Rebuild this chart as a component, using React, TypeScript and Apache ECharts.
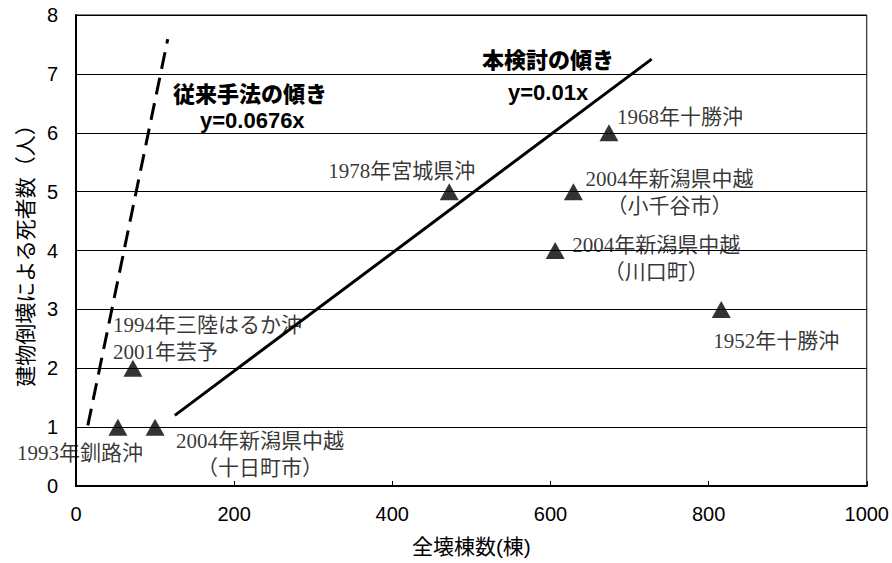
import React, { useEffect, useRef } from "react";
import * as echarts from "echarts";

// Data: collapsed buildings (x) vs deaths from building collapse (y)
const quakeNames = [
  "1993年釧路沖",
  "2004年新潟県中越\n（十日町市）",
  "1994年三陸はるか沖\n2001年芸予",
  "1978年宮城県沖",
  "1968年十勝沖",
  "2004年新潟県中越\n（小千谷市）",
  "2004年新潟県中越\n（川口町）",
  "1952年十勝沖",
];
const collapsedBuildings = [53, 100, 72, 472, 674, 629, 606, 816];
const deaths = [1, 1, 2, 5, 6, 5, 4, 3];

// Fitted lines (endpoints)
const conventionalLine = [
  [15, 1.03],
  [116, 7.59],
];
const proposedLine = [
  [125, 1.2],
  [728, 7.25],
];

const xTicks = { min: 0, max: 1000, interval: 200 };
const yTicks = { min: 0, max: 8, interval: 1 };

const xAxisTitle = "全壊棟数(棟)";
const yAxisTitle = "建物倒壊による死者数（人）";
const conventionalTitle = "従来手法の傾き";
const conventionalEq = "y=0.0676x";
const proposedTitle = "本検討の傾き";
const proposedEq = "y=0.01x";

// label placement (pixel offsets from each marker)
const labelLayout: { align: string; verticalAlign: string; offset: number[] }[] = [
  { align: "center", verticalAlign: "middle", offset: [-38, 26] },
  { align: "center", verticalAlign: "top", offset: [105, 0] },
  { align: "left", verticalAlign: "middle", offset: [-20, -30] },
  { align: "right", verticalAlign: "middle", offset: [26, -21] },
  { align: "left", verticalAlign: "middle", offset: [8, -16] },
  { align: "center", verticalAlign: "middle", offset: [96, 1] },
  { align: "center", verticalAlign: "middle", offset: [101, 8] },
  { align: "center", verticalAlign: "middle", offset: [55, 32] },
];

const serif = "'Liberation Serif', 'Noto Sans CJK JP', serif";
const sans = "'Liberation Sans', Arial, 'Noto Sans CJK JP', sans-serif";

export default function App() {
  const ref = useRef<HTMLDivElement>(null);

  useEffect(() => {
    if (!ref.current) return;
    const chart = echarts.init(ref.current, null, { renderer: "svg" });

    const scatterData = collapsedBuildings.map((x, i) => ({
      value: [x, deaths[i]],
      label: {
        show: true,
        formatter: quakeNames[i],
        position: "inside",
        align: labelLayout[i].align,
        verticalAlign: labelLayout[i].verticalAlign,
        offset: labelLayout[i].offset,
        fontFamily: serif,
        fontSize: 21,
        lineHeight: 27,
        color: "#000",
      },
    }));

    chart.setOption({
      animation: false,
      backgroundColor: "#fff",
      grid: {
        left: 76,
        right: 24,
        top: 15,
        bottom: 77,
        show: true,
        borderColor: "#000",
        borderWidth: 1,
        backgroundColor: "transparent",
      },
      xAxis: {
        type: "value",
        min: xTicks.min,
        max: xTicks.max,
        interval: xTicks.interval,
        name: xAxisTitle,
        nameLocation: "middle",
        nameGap: 50,
        nameTextStyle: { fontFamily: sans, fontSize: 21, color: "#000" },
        axisLine: { show: true, lineStyle: { color: "#000", width: 2 } },
        axisTick: { show: true, inside: true, length: 5, lineStyle: { color: "#000" } },
        axisLabel: {
          fontFamily: sans,
          fontSize: 20,
          color: "#000",
          margin: 18,
          formatter: (v: number) => String(v),
        },
        splitLine: { show: false },
      },
      yAxis: {
        type: "value",
        min: yTicks.min,
        max: yTicks.max,
        interval: yTicks.interval,
        name: yAxisTitle,
        nameLocation: "middle",
        nameGap: 40,
        nameRotate: 90,
        nameTextStyle: { fontFamily: sans, fontSize: 21, color: "#000" },
        axisLine: { show: true, lineStyle: { color: "#000", width: 2 } },
        axisTick: { show: false },
        axisLabel: {
          fontFamily: sans,
          fontSize: 20,
          color: "#000",
          margin: 18,
          formatter: (v: number) => String(v),
        },
        splitLine: { show: true, lineStyle: { color: "#000", width: 1 } },
      },
      graphic: [
        {
          type: "text",
          x: 173,
          y: 92,
          style: {
            text: conventionalTitle,
            font: `900 22px 'Noto Sans CJK JP', sans-serif`,
            fill: "#000",
            verticalAlign: "middle",
          },
        },
        {
          type: "text",
          x: 200,
          y: 120,
          style: {
            text: conventionalEq,
            font: `bold 22px 'Liberation Sans', Arial, sans-serif`,
            fill: "#000",
            verticalAlign: "middle",
          },
        },
        {
          type: "text",
          x: 482,
          y: 58,
          style: {
            text: proposedTitle,
            font: `900 22px 'Noto Sans CJK JP', sans-serif`,
            fill: "#000",
            verticalAlign: "middle",
          },
        },
        {
          type: "text",
          x: 508,
          y: 92,
          style: {
            text: proposedEq,
            font: `bold 22px 'Liberation Sans', Arial, sans-serif`,
            fill: "#000",
            verticalAlign: "middle",
          },
        },
      ],
      series: [
        {
          type: "line",
          data: conventionalLine,
          showSymbol: false,
          symbol: "none",
          lineStyle: { color: "#000", width: 3, type: [17, 9] },
          z: 3,
        },
        {
          type: "line",
          data: proposedLine,
          showSymbol: false,
          symbol: "none",
          lineStyle: { color: "#000", width: 3, type: "solid" },
          z: 3,
        },
        {
          type: "scatter",
          data: scatterData,
          symbol: "triangle",
          symbolSize: [19, 17],
          itemStyle: { color: "#000" },
          z: 4,
        },
      ],
    });

    return () => {
      chart.dispose();
    };
  }, []);

  return (
    <div
      ref={ref}
      style={{ position: "fixed", left: 0, top: 0, width: 892, height: 563 }}
    />
  );
}
